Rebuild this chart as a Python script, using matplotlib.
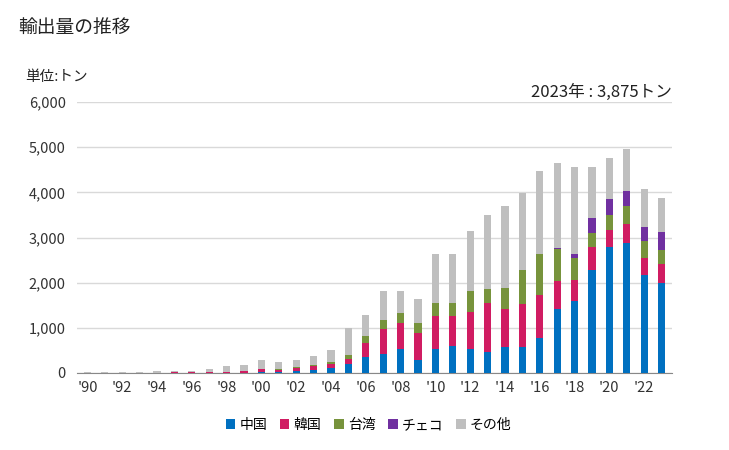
import numpy as np
import matplotlib
matplotlib.use("Agg")
import matplotlib.pyplot as plt
from matplotlib.ticker import FuncFormatter

plt.rcParams['font.family'] = ['Noto Sans CJK JP', 'DejaVu Sans']

years = list(range(1990, 2024))
china = [0, 0, 0, 0, 0, 0, 0, 0, 0, 0,
         30, 30, 45, 75, 120, 207, 356, 422, 526, 296,
         533, 600, 533, 474, 578, 578, 785, 1407, 1585, 2289,
         2785, 2874, 2178, 2000]
korea = [0, 0, 0, 0, 0, 20, 22, 30, 22, 45,
         60, 37, 67, 82, 80, 104, 311, 556, 585, 593,
         734, 667, 823, 1082, 844, 955, 948, 637, 482, 511,
         371, 415, 378, 422]
taiwan = [0, 0, 0, 0, 0, 0, 0, 0, 0, 0,
          0, 23, 22, 23, 54, 89, 155, 200, 222, 222,
          289, 289, 466, 311, 467, 756, 911, 712, 489, 289,
          333, 400, 377, 311]
czech = [0, 0, 0, 0, 0, 0, 0, 0, 0, 0,
         0, 0, 0, 0, 0, 0, 0, 0, 0, 0,
         0, 0, 0, 0, 0, 0, 0, 22, 88, 333,
         355, 333, 289, 378]
others = [22, 22, 22, 22, 45, 25, 23, 60, 135, 135,
          200, 156, 156, 200, 261, 600, 467, 644, 489, 533,
          1088, 1088, 1311, 1622, 1800, 1689, 1823, 1866, 1912, 1134,
          912, 934, 845, 764]

series = [("中国", china, "#0070C0"),
          ("韓国", korea, "#D01C62"),
          ("台湾", taiwan, "#77933C"),
          ("チェコ", czech, "#7030A0"),
          ("その他", others, "#BFBFBF")]

fig = plt.figure(figsize=(7.29, 4.5), dpi=100)
ax = fig.add_axes([77/729, 1-373/450, 595/729, 271/450])

x = np.array(years)
bottom = np.zeros(len(years))
for name, vals, col in series:
    ax.bar(x, vals, width=0.42, bottom=bottom, color=col, label=name, zorder=3)
    bottom += np.array(vals)

ax.set_ylim(0, 6000)
ax.set_xlim(1989.4, 2023.6)
ax.set_yticks(range(0, 6001, 1000))
ax.yaxis.set_major_formatter(FuncFormatter(lambda v, p: f"{int(v):,}"))
ax.set_xticks(range(1990, 2023, 2))
ax.set_xticklabels(["'" + str(y)[2:] for y in range(1990, 2023, 2)])
ax.grid(axis='y', color='#D9D9D9', linewidth=1, zorder=0)
for s in ['top', 'right', 'left']:
    ax.spines[s].set_visible(False)
ax.spines['bottom'].set_color('#888888')
ax.tick_params(axis='both', length=0, labelsize=10.5, colors='#333333')
ax.tick_params(axis='x', pad=6)
ax.tick_params(axis='y', pad=8)

fig.text(18/729, 1-27/450, "輸出量の推移", fontsize=13.5, va='center', ha='left', color='#222222')
fig.text(25/729, 1-77/450, "単位:トン", fontsize=10.5, va='center', ha='left', color='#222222')
fig.text(672/729, 1-92/450, "2023年 : 3,875トン", fontsize=12, va='center', ha='right', color='#222222')

ax.legend(loc='upper center', bbox_to_anchor=(0.49, -0.12), ncol=5, frameon=False,
          fontsize=10, handlelength=0.7, handleheight=0.7, handletextpad=0.3, columnspacing=0.9)

fig.savefig("out.png", dpi=100)
